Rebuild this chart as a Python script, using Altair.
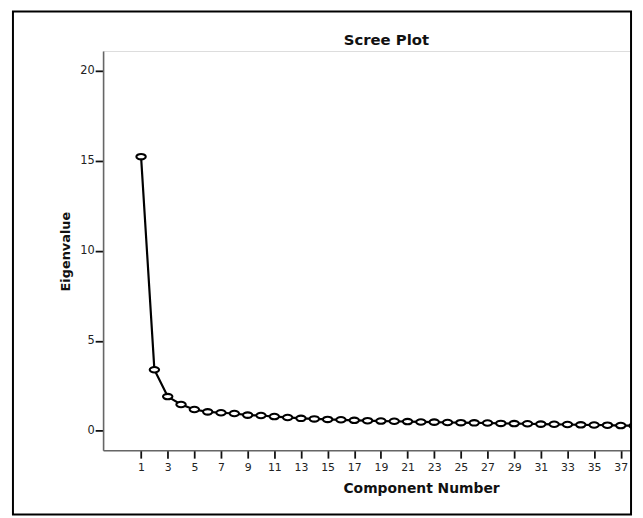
import altair as alt
import pandas as pd

chart_title = "Scree Plot"
components = list(range(1, 39))
eigenvalues = [15.23, 3.39, 1.90, 1.46, 1.18, 1.05, 1.00, 0.96, 0.87, 0.85,
               0.79, 0.74, 0.69, 0.66, 0.63, 0.61, 0.58, 0.56, 0.54, 0.53,
               0.51, 0.49, 0.48, 0.46, 0.45, 0.44, 0.43, 0.41, 0.40, 0.39,
               0.37, 0.36, 0.35, 0.33, 0.32, 0.31, 0.29, 0.28]
x_ticks = list(range(1, 38, 2))
y_ticks = [0, 5, 10, 15, 20]

df = pd.DataFrame({"Component Number": components, "Eigenvalue": eigenvalues})

W, H = 533, 403

xenc = alt.X("Component Number:Q",
             scale=alt.Scale(domain=[-1.85, 37.77], nice=False, zero=False),
             axis=alt.Axis(values=x_ticks, title="Component Number", grid=False,
                           tickSize=8, tickWidth=1.8, tickColor="#111",
                           domainColor="#666", domainWidth=1.6,
                           labelFont="DejaVu Sans", labelFontSize=11, labelColor="#222",
                           labelPadding=3,
                           titleFont="DejaVu Sans", titleFontSize=14, titleFontWeight="bold",
                           titleX=321, titleY=43, titleBaseline="alphabetic",
                           titleAlign="center", titleColor="#111"))
yenc = alt.Y("Eigenvalue:Q",
             scale=alt.Scale(domain=[-1.08, 21.1], nice=False, zero=False),
             axis=alt.Axis(values=y_ticks, title="Eigenvalue", grid=False,
                           tickSize=8, tickWidth=1.8, tickColor="#111",
                           domainColor="#666", domainWidth=1.6,
                           labelFont="DejaVu Sans", labelFontSize=11.5, labelColor="#222",
                           labelPadding=1,
                           titleFont="DejaVu Sans", titleFontSize=13, titleFontWeight="bold",
                           titleX=-34, titleY=202, titleAngle=-90,
                           titleBaseline="alphabetic", titleAlign="center",
                           titleColor="#111"))

base = alt.Chart(df)

line = base.mark_line(color="black", strokeWidth=2.2, clip=True).encode(x=xenc, y=yenc)

ellipse = "M-1,0A1,0.58,0,1,0,1,0A1,0.58,0,1,0,-1,0Z"
points = base.mark_point(shape=ellipse, size=90, filled=True, fill="white",
                         stroke="black", strokeWidth=2.1, opacity=1,
                         clip=True).encode(x=xenc, y=yenc)

frame = alt.Chart(pd.DataFrame({"f": [0]})).mark_rect(
    fill=None, stroke="black", strokeWidth=2, clip=False
).encode(x=alt.value(-91), x2=alt.value(W), y=alt.value(-40), y2=alt.value(468))

title = alt.Chart(pd.DataFrame({"t": [chart_title]})).mark_text(
    font="DejaVu Sans", fontSize=15, fontWeight="bold", color="#111",
    align="center", baseline="alphabetic", clip=False
).encode(text="t:N", x=alt.value(286), y=alt.value(-6))

chart = alt.layer(line, points, frame, title).properties(
    width=W, height=H,
    autosize=alt.AutoSizeParams(type="none"),
    padding={"left": 96, "top": 41, "right": 4, "bottom": 66},
).configure_view(stroke="#666", strokeWidth=1.6).configure(background="white")

chart.save("out.html", embed_options={"renderer": "svg", "actions": False})
